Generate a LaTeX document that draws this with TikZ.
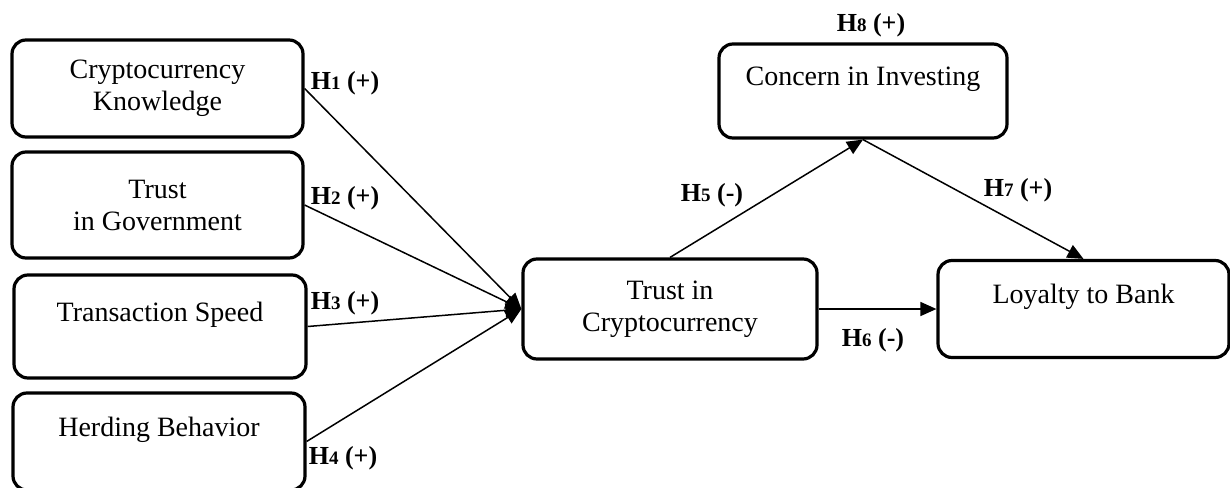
\documentclass[tikz,border=0pt]{standalone}
\usepackage{fontspec}
\setmainfont{Liberation Serif}
\usetikzlibrary{arrows.meta}

\tikzset{
    factor/.style={draw, line width=1.6pt, rounded corners=7pt, align=center,
        inner sep=0pt, font=\fontsize{14}{16}\selectfont},
    link/.style={-{Triangle[length=8pt,width=7pt]}, line width=0.75pt},
    hyp/.style={font=\bfseries\fontsize{13}{15}\selectfont, inner sep=0pt}
}
\newcommand{\hlabel}[2]{H{\fontsize{9.5}{10}\selectfont #1} (#2)}

\begin{document}
\begin{tikzpicture}[x=0.5pt,y=-0.5pt]
    \useasboundingbox (0,0) rectangle (1230,487);

    % Draw the four antecedent factors on the left
    \node[factor, minimum width=145.5pt, minimum height=48.5pt] (know) at (157.5,88.5) {Cryptocurrency\\Knowledge};
    \node[factor, minimum width=145.5pt, minimum height=53pt] (gov) at (157.5,205) {Trust\\in Government};
    \node[factor, minimum width=146pt, minimum height=51.5pt] (speed) at (160,326.5) {Transaction Speed\\[-6pt] \strut};
    \node[factor, minimum width=146pt, minimum height=48.5pt] (herd) at (159,441.5) {Herding Behavior\\[-6pt] \strut};

    % Draw the mediator and the outcomes
    \node[factor, minimum width=147pt, minimum height=50pt] (trust) at (670,309) {Trust in\\Cryptocurrency};
    \node[factor, minimum width=144pt, minimum height=47pt] (concern) at (863,91) {Concern in Investing\\[-6pt] \strut};
    \node[factor, minimum width=145.5pt, minimum height=48.5pt] (loyal) at (1083.5,309) {Loyalty to Bank\\[-6pt] \strut};

    % Draw the hypothesised paths
    \draw[link] (know.east) -- (trust.west);
    \draw[link] (gov.east) -- (trust.west);
    \draw[link] (speed.east) -- (trust.west);
    \draw[link] (herd.east) -- (trust.west);
    \draw[link] (trust.north) -- (concern.south);
    \draw[link] (trust.east) -- (loyal.west);
    \draw[link] (concern.south) -- (loyal.north);

    % Hypothesis labels
    \node[hyp] (h1) at (345,83) {\hlabel{1}{+}};
    \node[hyp] (h2) at (345,198) {\hlabel{2}{+}};
    \node[hyp] (h3) at (345,303) {\hlabel{3}{+}};
    \node[hyp] (h4) at (343,458) {\hlabel{4}{+}};
    \node[hyp] (h5) at (712,195) {\hlabel{5}{-}};
    \node[hyp] (h6) at (873,340) {\hlabel{6}{-}};
    \node[hyp] (h7) at (1018,190) {\hlabel{7}{+}};
    \node[hyp] (h8) at (871,25) {\hlabel{8}{+}};
\end{tikzpicture}
\end{document}
